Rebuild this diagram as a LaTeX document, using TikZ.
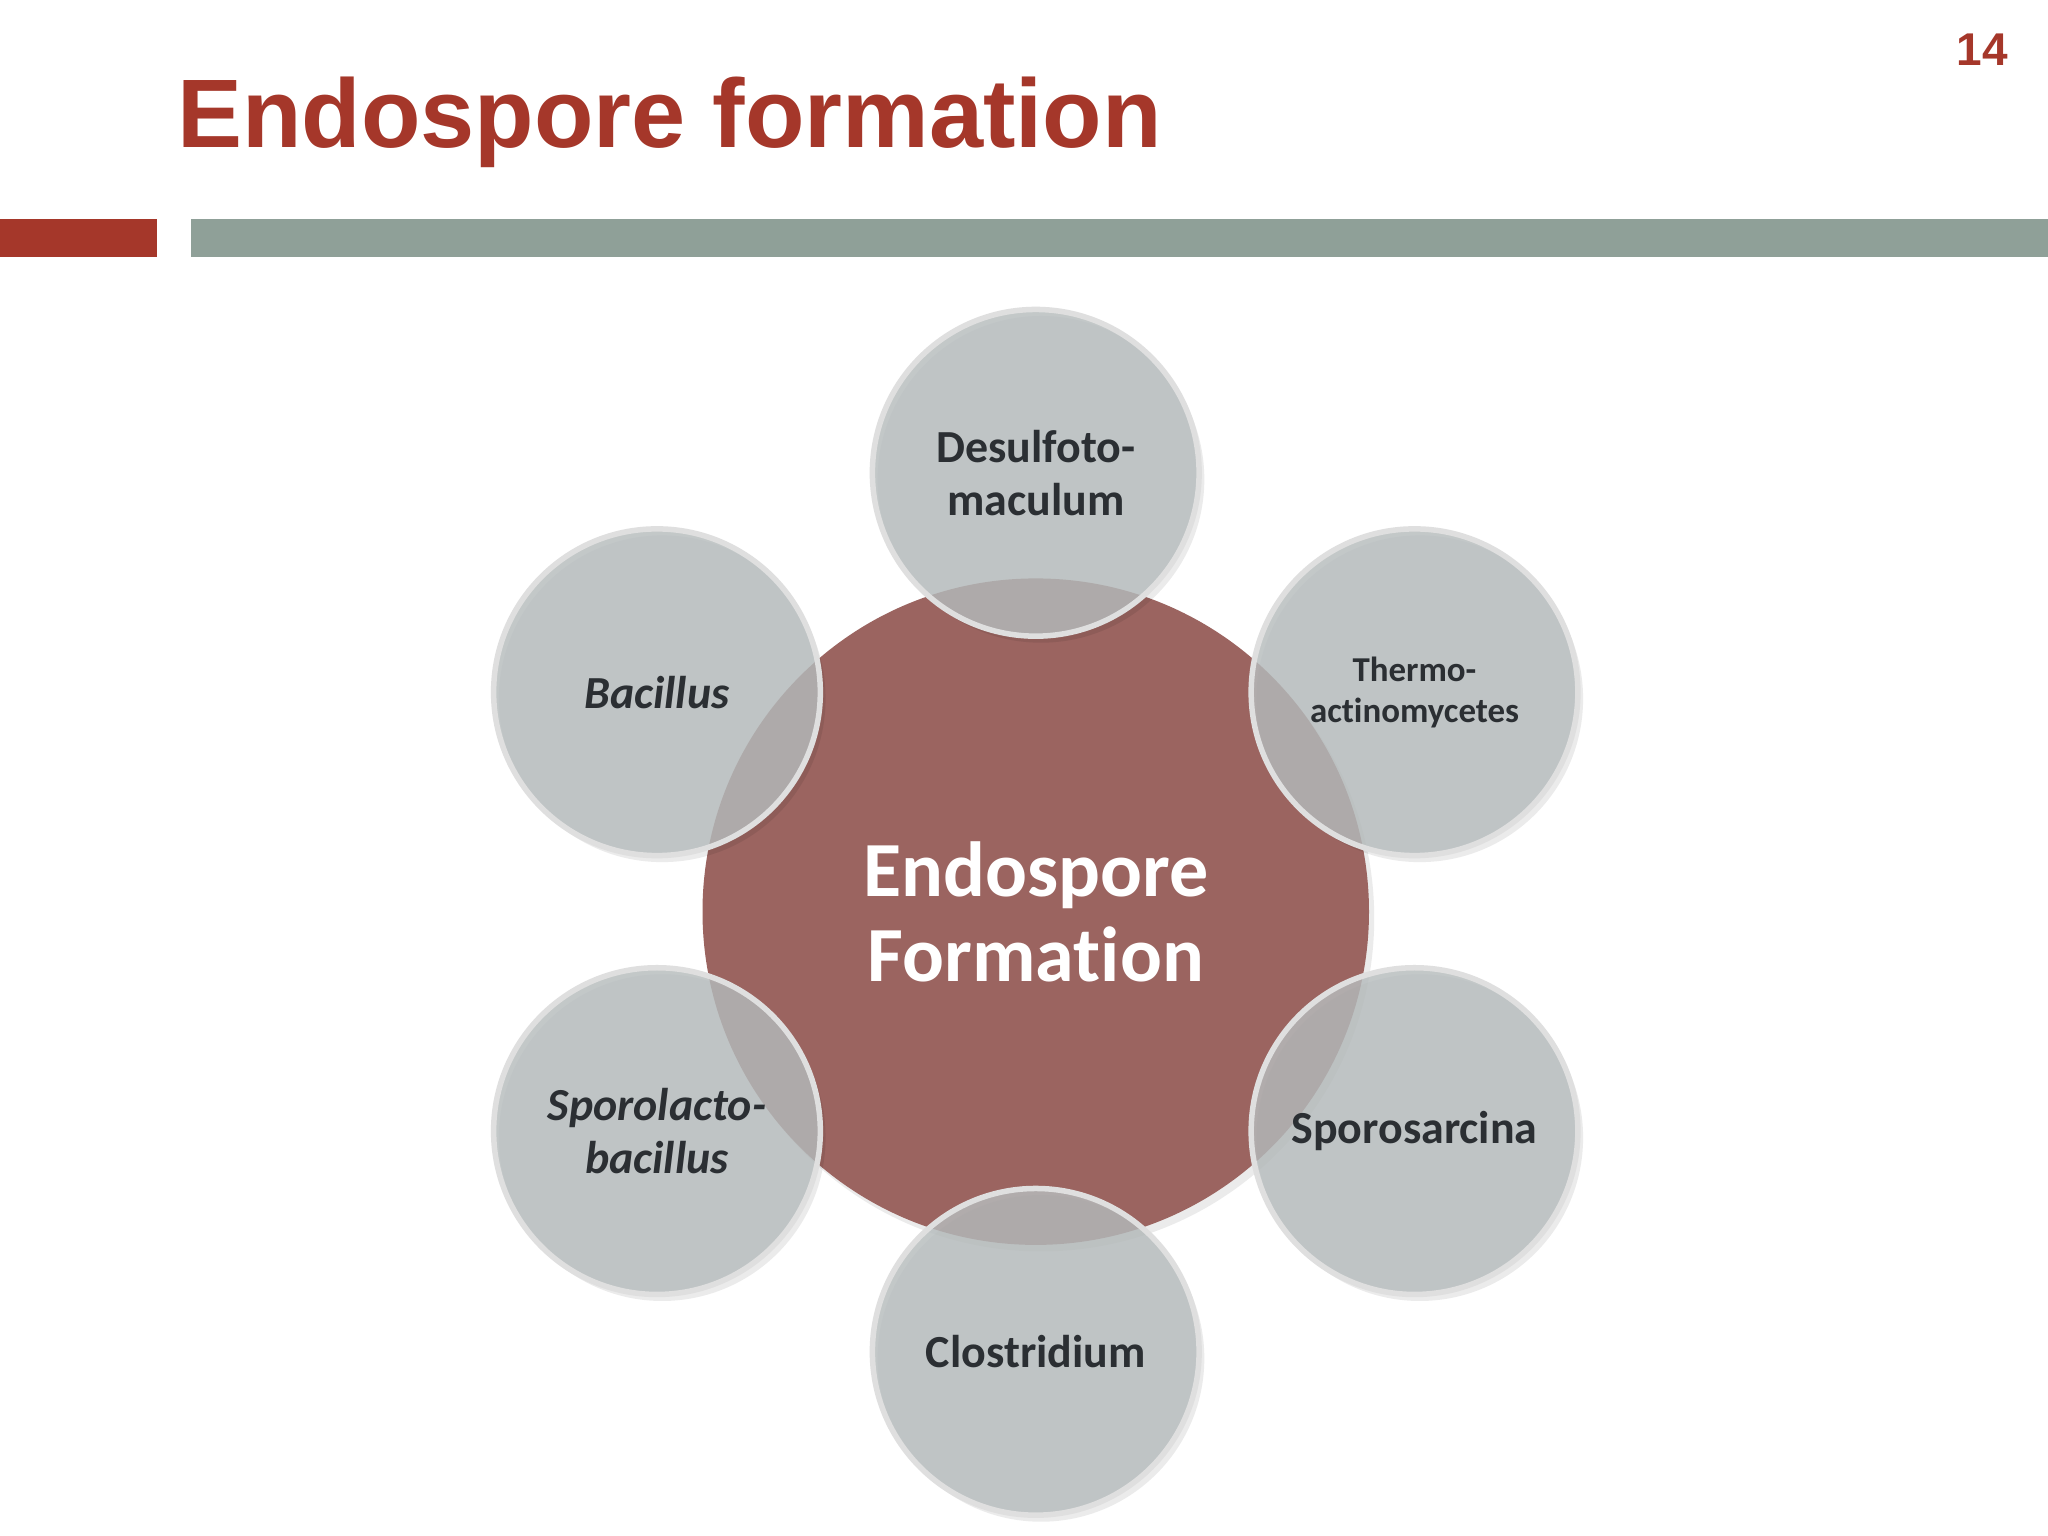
\documentclass[tikz,border=0pt]{standalone}
\usepackage{fontspec}
\setmainfont{Carlito}[Ligatures=NoCommon]
\newfontfamily\arialf{Liberation Sans}
\definecolor{titlered}{HTML}{A5372A}
\definecolor{bargray}{HTML}{8FA098}
\definecolor{centerred}{HTML}{9B6460}
\definecolor{outergray}{HTML}{B6BCBD}
\definecolor{txtdark}{HTML}{2B2F33}
\tikzset{
  outer/.style={circle,minimum size=2.5cm,inner sep=0pt,fill=outergray,fill opacity=0.82,draw=gray!25,line width=1.2pt,text opacity=1,text=txtdark,font=\bfseries\fontsize{10}{11.5}\selectfont,align=center},
  shad/.style={circle,minimum size=2.5cm,inner sep=0pt,fill=black,opacity=0.08}
}
\begin{document}
\begin{tikzpicture}[x=0.01cm,y=-0.01cm]
\useasboundingbox (0,0) rectangle (1568,1176);
\fill[white] (0,0) rectangle (1568,1176);
\node[anchor=base west,inner sep=0pt,text=titlered,font=\arialf\bfseries\fontsize{21.2}{24}\selectfont] (title) at (135,113) {Endospore formation};
\node[anchor=base east,inner sep=0pt,text=titlered,font=\arialf\bfseries\fontsize{10}{12}\selectfont] (pg) at (1538,50) {14};
\fill[titlered] (0,168) rectangle (120,197);
\fill[bargray] (146,168) rectangle (1568,197);
\node[circle,minimum size=5.1cm,fill=black,opacity=0.08] (cs) at (797,703) {};
\node[circle,minimum size=5.1cm,inner sep=0pt,fill=centerred] (c) at (793,698) {};
\foreach \n/\x/\y in {a/793/362,b/503/530,d/1083/530,e/503/866,f/1083/866,g/793/1035}{
  \node[shad] (s\n) at (\x+4,\y+5) {};
}
\node[text=white,font=\bfseries\fontsize{17}{18.5}\selectfont,align=center] (ct) at (793,698) {Endospore\\Formation};
\node[outer] (n1) at (793,362) {Desulfoto-\\maculum};
\node[outer] (n2) at (503,530) {\itshape Bacillus};
\node[outer,font=\bfseries\fontsize{7.6}{9}\selectfont] (n3) at (1083,530) {Thermo-\\actinomycetes};
\node[outer] (n4) at (503,866) {\itshape Sporolacto-\\\itshape bacillus};
\node[outer] (n5) at (1083,866) {Sporosarcina};
\node[outer] (n6) at (793,1035) {Clostridium};
\end{tikzpicture}
\end{document}
